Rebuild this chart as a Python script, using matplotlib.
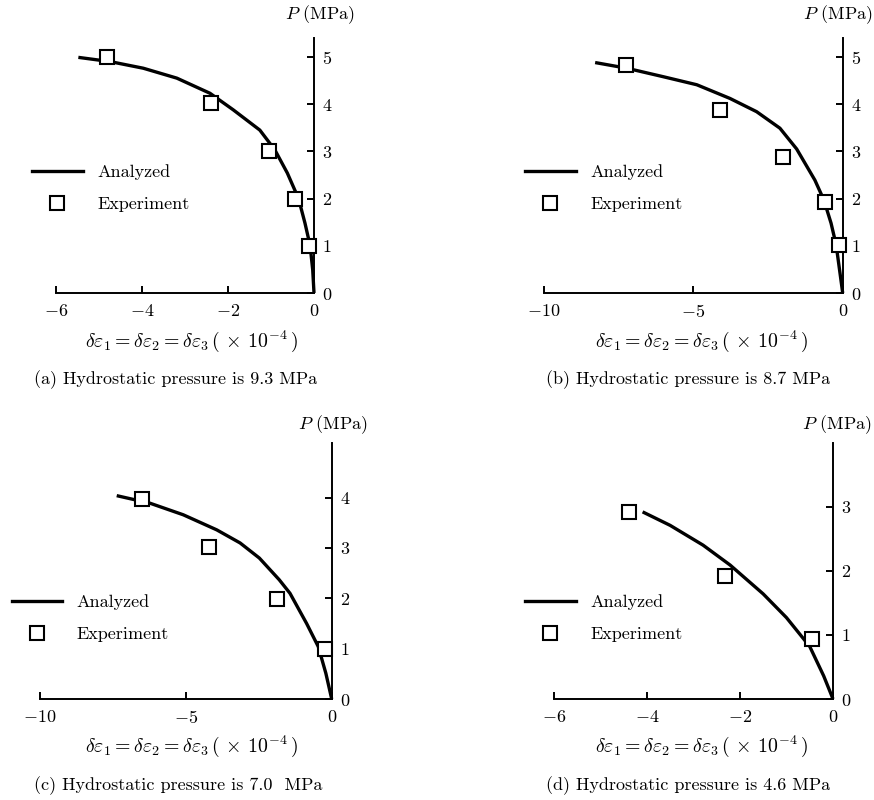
import matplotlib
matplotlib.use("Agg")
import matplotlib.pyplot as plt
from matplotlib.lines import Line2D

plt.rcParams['font.family'] = 'cmr10'
plt.rcParams['mathtext.fontset'] = 'cm'
plt.rcParams['axes.formatter.use_mathtext'] = True

# ---------------- data ----------------
captions = ["(a) Hydrostatic pressure is 9.3 MPa",
            "(b) Hydrostatic pressure is 8.7 MPa",
            "(c) Hydrostatic pressure is 7.0  MPa",
            "(d) Hydrostatic pressure is 4.6 MPa"]

a_curve_x = [-5.48, -4.74, -3.97, -3.19, -2.42, -1.88, -1.26, -0.91, -0.62, -0.36, -0.21, -0.09, -0.03, 0.0]
a_curve_y = [4.99, 4.90, 4.76, 4.55, 4.23, 3.88, 3.45, 3.03, 2.54, 2.0, 1.48, 1.0, 0.49, 0.0]
a_exp_x = [-4.82, -2.40, -1.04, -0.44, -0.11]
a_exp_y = [5.0, 4.02, 3.0, 2.0, 1.0]

b_curve_x = [-8.28, -7.22, -6.0, -4.88, -3.77, -2.88, -2.10, -1.54, -0.93, -0.63, -0.39, -0.22, -0.09, 0.0]
b_curve_y = [4.88, 4.76, 4.58, 4.41, 4.12, 3.84, 3.49, 3.05, 2.39, 1.97, 1.48, 1.02, 0.42, 0.0]
b_exp_x = [-7.25, -4.11, -2.0, -0.58, -0.13]
b_exp_y = [4.82, 3.88, 2.89, 1.93, 1.02]

c_curve_x = [-7.37, -6.23, -5.09, -3.94, -3.14, -2.48, -1.80, -1.43, -0.86, -0.46, -0.20, 0.0]
c_curve_y = [4.04, 3.89, 3.66, 3.36, 3.10, 2.80, 2.37, 2.10, 1.50, 1.04, 0.51, 0.0]
c_exp_x = [-6.51, -4.20, -1.89, -0.23]
c_exp_y = [3.97, 3.01, 1.98, 1.0]

d_curve_x = [-4.09, -3.50, -2.79, -2.21, -1.5, -1.0, -0.5, -0.2, 0.0]
d_curve_y = [2.92, 2.71, 2.40, 2.09, 1.64, 1.27, 0.82, 0.36, 0.0]
d_exp_x = [-4.39, -2.31, -0.45]
d_exp_y = [2.92, 1.92, 0.94]

a_xticks = [-6, -4, -2, 0]
b_xticks = [-10, -5, 0]
c_xticks = [-10, -5, 0]
d_xticks = [-6, -4, -2, 0]
a_yticks = [0, 1, 2, 3, 4, 5]
b_yticks = [0, 1, 2, 3, 4, 5]
c_yticks = [0, 1, 2, 3, 4]
d_yticks = [0, 1, 2, 3]

# ---------------- layout ----------------
W, H = 874, 800
fig = plt.figure(figsize=(W / 100, H / 100), dpi=100)

def px_rect(l, r, t, b):
    return [l / W, 1 - b / H, (r - l) / W, (b - t) / H]

panels = [
    dict(rect=px_rect(56, 314, 38, 293), xlim=(-6, 0), ylim=(0, 5.4),
         cx=a_curve_x, cy=a_curve_y, ex=a_exp_x, ey=a_exp_y, xt=a_xticks, yt=a_yticks,
         leg=(32, 188.5), xlab=(191, 341), plab=(320, 15), cap=(176, 380)),
    dict(rect=px_rect(543.7, 842.7, 38, 293), xlim=(-10, 0), ylim=(0, 5.4),
         cx=b_curve_x, cy=b_curve_y, ex=b_exp_x, ey=b_exp_y, xt=b_xticks, yt=b_yticks,
         leg=(525, 188.5), xlab=(701, 341), plab=(838, 15), cap=(688, 380)),
    dict(rect=px_rect(40, 331.7, 443.3, 699), xlim=(-10, 0), ylim=(0, 5.08),
         cx=c_curve_x, cy=c_curve_y, ex=c_exp_x, ey=c_exp_y, xt=c_xticks, yt=c_yticks,
         leg=(11.7, 618.3), xlab=(191, 746), plab=(333, 425), cap=(178, 786)),
    dict(rect=px_rect(553.7, 833, 443.3, 699), xlim=(-6, 0), ylim=(0, 3.99),
         cx=d_curve_x, cy=d_curve_y, ex=d_exp_x, ey=d_exp_y, xt=d_xticks, yt=d_yticks,
         leg=(525, 618.3), xlab=(701, 746), plab=(837, 425), cap=(688, 786)),
]

FS = 13
LW = 2.4
for i, p in enumerate(panels):
    ax = fig.add_axes(p['rect'])
    ax.set_xlim(*p['xlim'])
    ax.set_ylim(*p['ylim'])
    ax.plot(p['cx'], p['cy'], color='black', lw=LW, clip_on=False, zorder=3,
            solid_capstyle='butt', solid_joinstyle='round')
    ax.plot(p['ex'], p['ey'], ls='none', marker='s', ms=9.5, mfc='white', mec='black',
            mew=1.5, clip_on=False, zorder=4)
    for s in ['left', 'top']:
        ax.spines[s].set_visible(False)
    for s in ['right', 'bottom']:
        ax.spines[s].set_linewidth(1.4)
    ax.spines['bottom'].set_bounds(p['xlim'][0], 0)
    ax.yaxis.tick_right()
    ax.set_xticks(p['xt'])
    ax.set_xticklabels([f'${t}$' for t in p['xt']])
    ax.set_yticks(p['yt'])
    ax.set_yticklabels([f'${t}$' for t in p['yt']])
    ax.tick_params(axis='both', direction='in', length=5, width=1.4, labelsize=FS)
    ax.tick_params(axis='x', pad=7)
    ax.tick_params(axis='y', pad=6)
    ax.patch.set_visible(False)

    handles = [Line2D([], [], color='black', lw=LW),
               Line2D([], [], ls='none', marker='s', ms=9.5, mfc='white', mec='black', mew=1.5)]
    lx, ly = p['leg']
    ax.legend(handles, ['Analyzed', 'Experiment'], loc='center left',
              bbox_to_anchor=(lx / W, 1 - ly / H), bbox_transform=fig.transFigure,
              frameon=False, fontsize=FS, handlelength=2.8, handletextpad=0.8,
              borderpad=0, borderaxespad=0, labelspacing=0.9)

    fig.text(p['xlab'][0] / W, 1 - p['xlab'][1] / H,
             r'$\delta\varepsilon_1=\delta\varepsilon_2=\delta\varepsilon_3\,(\,\times\,10^{-4}\,)$',
             ha='center', va='center', fontsize=14.3)
    fig.text(p['plab'][0] / W, 1 - p['plab'][1] / H, r'$P$ (MPa)',
             ha='center', va='center', fontsize=FS)
    fig.text(p['cap'][0] / W, 1 - p['cap'][1] / H, captions[i],
             ha='center', va='center', fontsize=FS)

fig.savefig('out.png', dpi=100)
